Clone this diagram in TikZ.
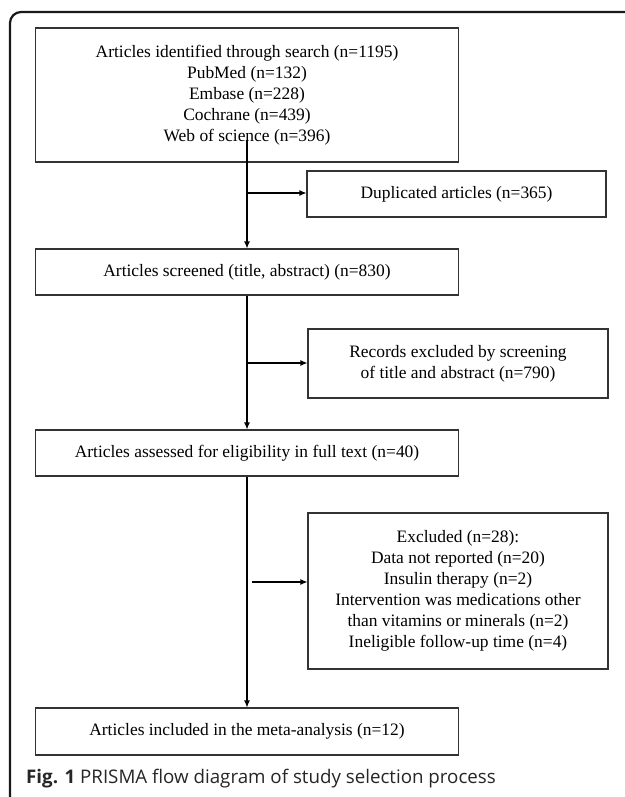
\documentclass[tikz,border=0pt]{standalone}
\usepackage{fontspec}
\setmainfont{Liberation Serif}
\newfontfamily\capfont{Open Sans}
\usetikzlibrary{arrows.meta}
\begin{document}
\begin{tikzpicture}[x=1bp,y=-1bp,
  box/.style={draw=black!80,line width=1.1bp,inner sep=0pt,align=center,
    font=\fontsize{17.5}{21}\selectfont},
  conn/.style={draw=black,line width=1.1bp,-{Latex[length=7bp,width=6bp]}},
  frame/.style={draw=black!90,line width=2.2bp,rounded corners=11bp}]
\useasboundingbox (0,0) rectangle (625,797);
\path[fill=white] (0,0) rectangle (625,797);
\draw[frame] (10,800) -- (10,12) -- (630,12);
\node[box,minimum width=423bp,minimum height=134bp] (b1) at (247,95)
  {Articles identified through search (n=1195)\\PubMed (n=132)\\Embase (n=228)\\Cochrane (n=439)\\Web of science (n=396)};
\node[box,minimum width=299bp,minimum height=46bp] (dup) at (456.5,194)
  {Duplicated articles (n=365)};
\node[box,minimum width=423bp,minimum height=46bp] (b2) at (247,272)
  {Articles screened (title, abstract) (n=830)};
\node[box,minimum width=300bp,minimum height=69bp] (rec) at (458,363.5)
  {Records excluded by screening\\of title and abstract (n=790)};
\node[box,minimum width=423bp,minimum height=46bp] (b3) at (247,453)
  {Articles assessed for eligibility in full text (n=40)};
\node[box,minimum width=300bp,minimum height=156bp] (exc) at (458,591)
  {Excluded (n=28):\\Data not reported (n=20)\\Insulin therapy (n=2)\\Intervention was medications other\\than vitamins or minerals (n=2)\\Ineligible follow-up time (n=4)};
\node[box,minimum width=423bp,minimum height=47bp] (b4) at (247,731.5)
  {Articles included in the meta-analysis (n=12)};
\node[anchor=base west,inner sep=0pt,font=\capfont\fontsize{18.8}{22}\selectfont,text=black!85] (cap) at (26,783)
  {\textbf{Fig. 1} PRISMA flow diagram of study selection process};
\coordinate (s1) at (247,140);
\coordinate (j1) at (247,193);
\coordinate (j2) at (247,363);
\coordinate (j3) at (252,582);
\draw[conn] (s1) -- (b2.north);
\draw[conn] (j1) -- (j1 -| dup.west);
\draw[conn] (b2.south) -- (b3.north);
\draw[conn] (j2) -- (j2 -| rec.west);
\draw[conn] (b3.south) -- (b4.north);
\draw[conn] (j3) -- (j3 -| exc.west);
\end{tikzpicture}
\end{document}
